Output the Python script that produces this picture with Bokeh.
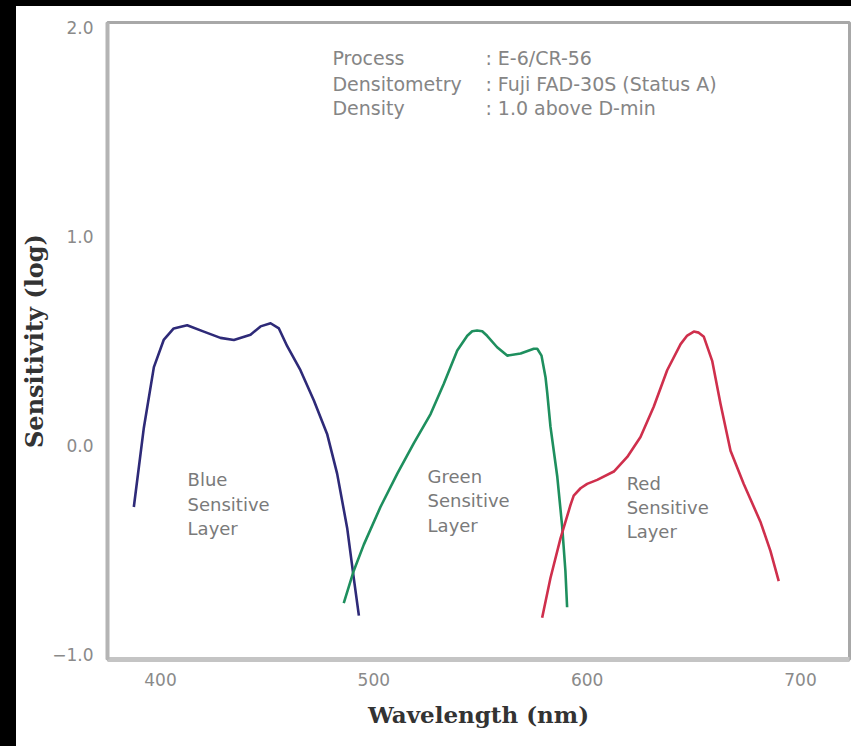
from bokeh.plotting import figure
from bokeh.models import Range1d, FixedTicker, Div
from bokeh.layouts import row, column
from bokeh.core.properties import value
from bokeh.embed import file_html
from bokeh.resources import INLINE

# ---- data ----
blue_wl = [387.5, 392.2, 396.9, 401.5, 406.2, 412.5, 420.3, 428.1, 434.4, 442.2, 446.9,
           451.6, 455.5, 459.4, 465.6, 471.9, 478.1, 482.8, 487.5, 490.6, 493.0]
blue_s = [-0.295, 0.085, 0.375, 0.505, 0.56, 0.575, 0.545, 0.515, 0.505, 0.53, 0.57,
          0.585, 0.56, 0.475, 0.36, 0.215, 0.055, -0.135, -0.395, -0.635, -0.815]

green_wl = [485.9, 490.6, 495.3, 503.1, 511.0, 518.7, 526.6, 532.8, 539.1, 543.8, 546.1,
            548.4, 550.8, 553.1, 557.8, 562.5, 568.8, 575.0, 576.6, 578.6, 580.5, 581.3,
            582.8, 586.0, 588.3, 589.8, 590.6]
green_s = [-0.755, -0.6, -0.475, -0.295, -0.135, 0.01, 0.15, 0.295, 0.455, 0.525, 0.547,
           0.55, 0.547, 0.525, 0.47, 0.43, 0.44, 0.463, 0.463, 0.43, 0.325, 0.25,
           0.09, -0.15, -0.39, -0.6, -0.775]

red_wl = [578.9, 582.8, 587.5, 592.2, 593.7, 596.9, 600.0, 604.7, 612.5, 618.8, 625.0,
          631.2, 637.5, 643.8, 646.9, 650.0, 652.3, 654.7, 658.6, 662.5, 667.2, 673.4,
          681.2, 685.9, 689.8]
red_s = [-0.825, -0.635, -0.445, -0.285, -0.24, -0.205, -0.184, -0.165, -0.125, -0.055, 0.04,
         0.185, 0.36, 0.485, 0.526, 0.545, 0.54, 0.52, 0.405, 0.2, -0.025, -0.185,
         -0.365, -0.505, -0.65]

layer_labels = ["Blue\nSensitive\nLayer", "Green\nSensitive\nLayer", "Red\nSensitive\nLayer"]
info_keys = ["Process", "Densitometry", "Density"]
info_vals = [": E-6/CR-56", ": Fuji FAD-30S (Status A)", ": 1.0 above D-min"]

x_ticks = [400, 500, 600, 700]
y_ticks = [-1.0, 0.0, 1.0, 2.0]
y_tick_labels = {-1.0: "\u22121.0", 0.0: "0.0", 1.0: "1.0", 2.0: "2.0"}

# ---- positions / styles ----
label_x = [412.7, 525.2, 618.5]
label_y = [-0.115, -0.10, -0.13]
info_key_x = 480.6
info_val_x = 552.3
info_y = [1.853, 1.729, 1.614]

p = figure(width=835, height=740, output_backend="svg", toolbar_location=None,
           x_range=Range1d(375.16, 722.97), y_range=Range1d(-1.025, 2.025),
           min_border_left=91, min_border_right=2, min_border_top=16, min_border_bottom=87,
           background_fill_color="white", border_fill_color="white")
p.grid.visible = False
p.outline_line_color = "#a8a8a8"
p.outline_line_width = 3

for ax in (p.xaxis[0], p.yaxis[0]):
    ax.major_tick_line_color = None
    ax.minor_tick_line_color = None
    ax.major_label_text_font = "DejaVu Sans"
    ax.major_label_text_font_size = "17px"
    ax.major_label_text_color = "#8a8a8a"
    ax.axis_label_text_font = "DejaVu Serif"
    ax.axis_label_text_font_style = "bold"
    ax.axis_label_text_color = "#333333"

p.xaxis.axis_label_text_font_size = "23px"
p.yaxis.axis_label_text_font_size = "24px"
p.xaxis.major_label_standoff = 7
p.yaxis.major_label_standoff = 8
p.xaxis.ticker = FixedTicker(ticks=x_ticks)
p.yaxis.ticker = FixedTicker(ticks=y_ticks)
p.yaxis.major_label_overrides = y_tick_labels
p.xaxis.axis_label = "Wavelength (nm)"
p.yaxis.axis_label = "Sensitivity (log)"
p.xaxis.axis_line_color = "#c4c4c4"
p.xaxis.axis_line_width = 5
p.yaxis.axis_line_color = "#b4b4b4"
p.yaxis.axis_line_width = 4
p.xaxis.axis_label_standoff = 12
p.yaxis.axis_label_standoff = 0

p.line(blue_wl, blue_s, line_color="#2e2a78", line_width=2.6, line_join="round")
p.line(green_wl, green_s, line_color="#1e8f5e", line_width=2.6, line_join="round")
p.line(red_wl, red_s, line_color="#cf2f4c", line_width=2.6, line_join="round")

p.text(x=label_x, y=label_y, text=layer_labels, text_font=value("DejaVu Sans"),
       text_font_size=value("18px"), text_color="#7a7a7a", text_baseline="top",
       text_align="left", text_line_height=1.15)

p.text(x=[info_key_x] * 3, y=info_y, text=info_keys, text_font=value("DejaVu Sans"),
       text_font_size=value("19px"), text_color="#858585", text_baseline="middle")
p.text(x=[info_val_x] * 3, y=info_y, text=info_vals, text_font=value("DejaVu Sans"),
       text_font_size=value("19px"), text_color="#858585", text_baseline="middle")

top_band = Div(width=851, height=6, margin=(0, 0, 0, 0), styles={"background-color": "black"})
left_band = Div(width=16, height=740, margin=(0, 0, 0, 0), styles={"background-color": "black"})
layout = column(top_band, row(left_band, p, spacing=0), spacing=0)

open("out.html", "w").write(file_html(layout, INLINE))
